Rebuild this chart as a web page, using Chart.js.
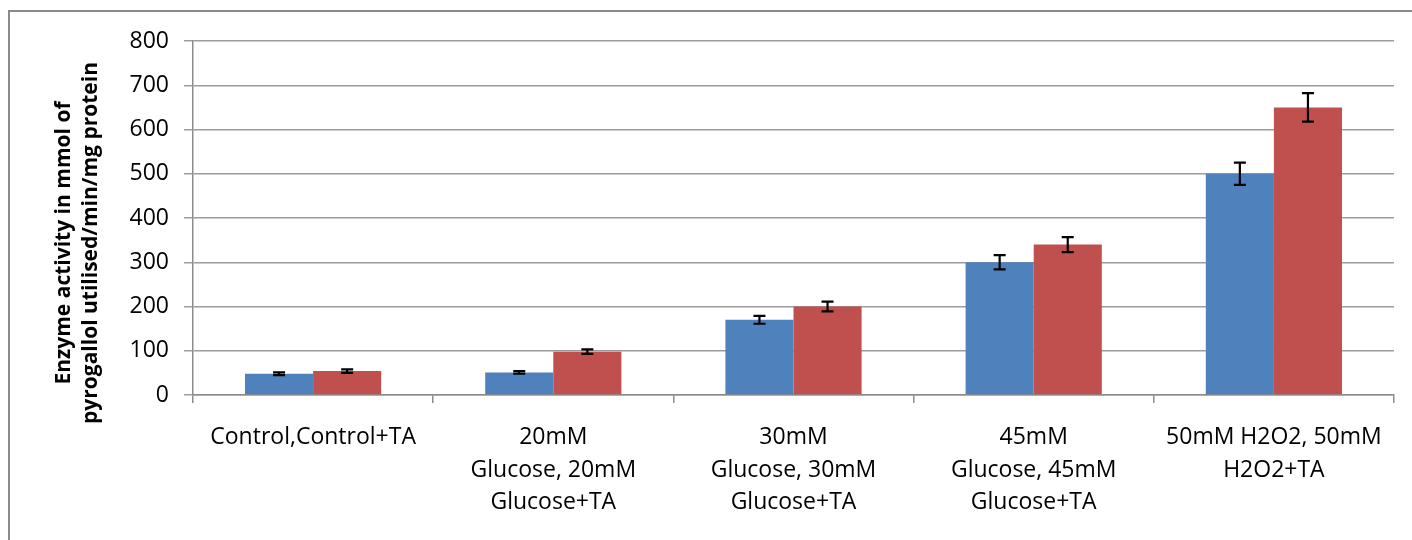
<!DOCTYPE html>
<html>
<head>
<meta charset="utf-8">
<script src="https://cdn.jsdelivr.net/npm/chart.js@4.4.1/dist/chart.umd.min.js"></script>
<style>
    body { margin: 0; background: #fff; }
    #frame {
        position: absolute; left: 8px; top: 10px;
        width: 1500px; height: 600px;
        border: 2px solid #8a8a8a;
    }
    #wrap { position: absolute; left: 0; top: 0; width: 1412px; height: 540px; }
</style>
</head>
<body>
<div id="frame"></div>
<div id="wrap"><canvas id="chart"></canvas></div>
<script>
// groups on the x axis (each label split into its lines)
const categories = [
    ['Control,Control+TA'],
    ['20mM', 'Glucose, 20mM', 'Glucose+TA'],
    ['30mM', 'Glucose, 30mM', 'Glucose+TA'],
    ['45mM', 'Glucose, 45mM', 'Glucose+TA'],
    ['50mM H2O2, 50mM', 'H2O2+TA']
];

const withoutTA = [48, 51, 170, 300, 500];
const withTA    = [54, 98, 200, 340, 650];

const errWithoutTA = [3, 3, 9, 16, 25];
const errWithTA    = [4, 5, 11, 17, 32];

const yTitle = ['Enzyme activity in mmol of', 'pyrogallol utilised/min/mg protein'];

const FONT = "'Open Sans', sans-serif";

// black caps drawn over each bar
const errorBars = {
    id: 'errorBars',
    afterDatasetsDraw(chart) {
        const ctx = chart.ctx;
        const y = chart.scales.y;
        ctx.save();
        ctx.strokeStyle = '#000';
        ctx.lineWidth = 2.2;
        chart.data.datasets.forEach((ds, i) => {
            const meta = chart.getDatasetMeta(i);
            meta.data.forEach((bar, j) => {
                const v = ds.data[j];
                const e = ds.errors[j];
                const top = y.getPixelForValue(v + e);
                const bot = y.getPixelForValue(v - e);
                const x = bar.x;
                ctx.beginPath();
                ctx.moveTo(x, top); ctx.lineTo(x, bot);
                ctx.moveTo(x - 6, top); ctx.lineTo(x + 6, top);
                ctx.moveTo(x - 6, bot); ctx.lineTo(x + 6, bot);
                ctx.stroke();
            });
        });
        ctx.restore();
    }
};

// rotated two-line axis title
const axisTitle = {
    id: 'axisTitle',
    afterDraw(chart) {
        const ctx = chart.ctx;
        ctx.save();
        ctx.font = "bold 21px " + FONT;
        ctx.fillStyle = '#000';
        ctx.textAlign = 'center';
        ctx.textBaseline = 'middle';
        ctx.translate(0, 243);
        ctx.rotate(-Math.PI / 2);
        ctx.fillText(yTitle[0], 0, 64);
        ctx.fillText(yTitle[1], 0, 91);
        ctx.restore();
    }
};

new Chart(document.getElementById('chart'), {
    type: 'bar',
    data: {
        labels: categories,
        datasets: [{
            label: 'Without TA',
            data: withoutTA,
            errors: errWithoutTA,
            backgroundColor: '#4F81BD'
        }, {
            label: 'With TA',
            data: withTA,
            errors: errWithTA,
            backgroundColor: '#C0504D'
        }]
    },
    options: {
        responsive: true,
        maintainAspectRatio: false,
        animation: false,
        categoryPercentage: 0.567,
        barPercentage: 1.0,
        layout: { padding: { top: 41, right: 18, bottom: 0, left: 0 } },
        plugins: {
            legend: { display: false },
            tooltip: { enabled: false }
        },
        scales: {
            x: {
                grid: {
                    drawOnChartArea: false,
                    drawTicks: true,
                    tickLength: 8,
                    color: '#8c8c8c',
                    lineWidth: 1.5
                },
                border: { color: '#8c8c8c', width: 1.5 },
                ticks: {
                    color: '#000',
                    padding: 18,
                    maxRotation: 0,
                    autoSkip: false,
                    font: { family: FONT, size: 23, lineHeight: 1.42 }
                },
                afterFit(scale) { scale.height = 145; }
            },
            y: {
                min: 0,
                max: 800,
                ticks: {
                    stepSize: 100,
                    color: '#000',
                    padding: 15,
                    font: { family: FONT, size: 23 }
                },
                grid: {
                    color: '#9c9c9c',
                    lineWidth: 1.5,
                    tickLength: 9
                },
                border: { color: '#8c8c8c', width: 1.5 },
                afterFit(scale) { scale.width = 193; }
            }
        }
    },
    plugins: [errorBars, axisTitle]
});
</script>
</body>
</html>
